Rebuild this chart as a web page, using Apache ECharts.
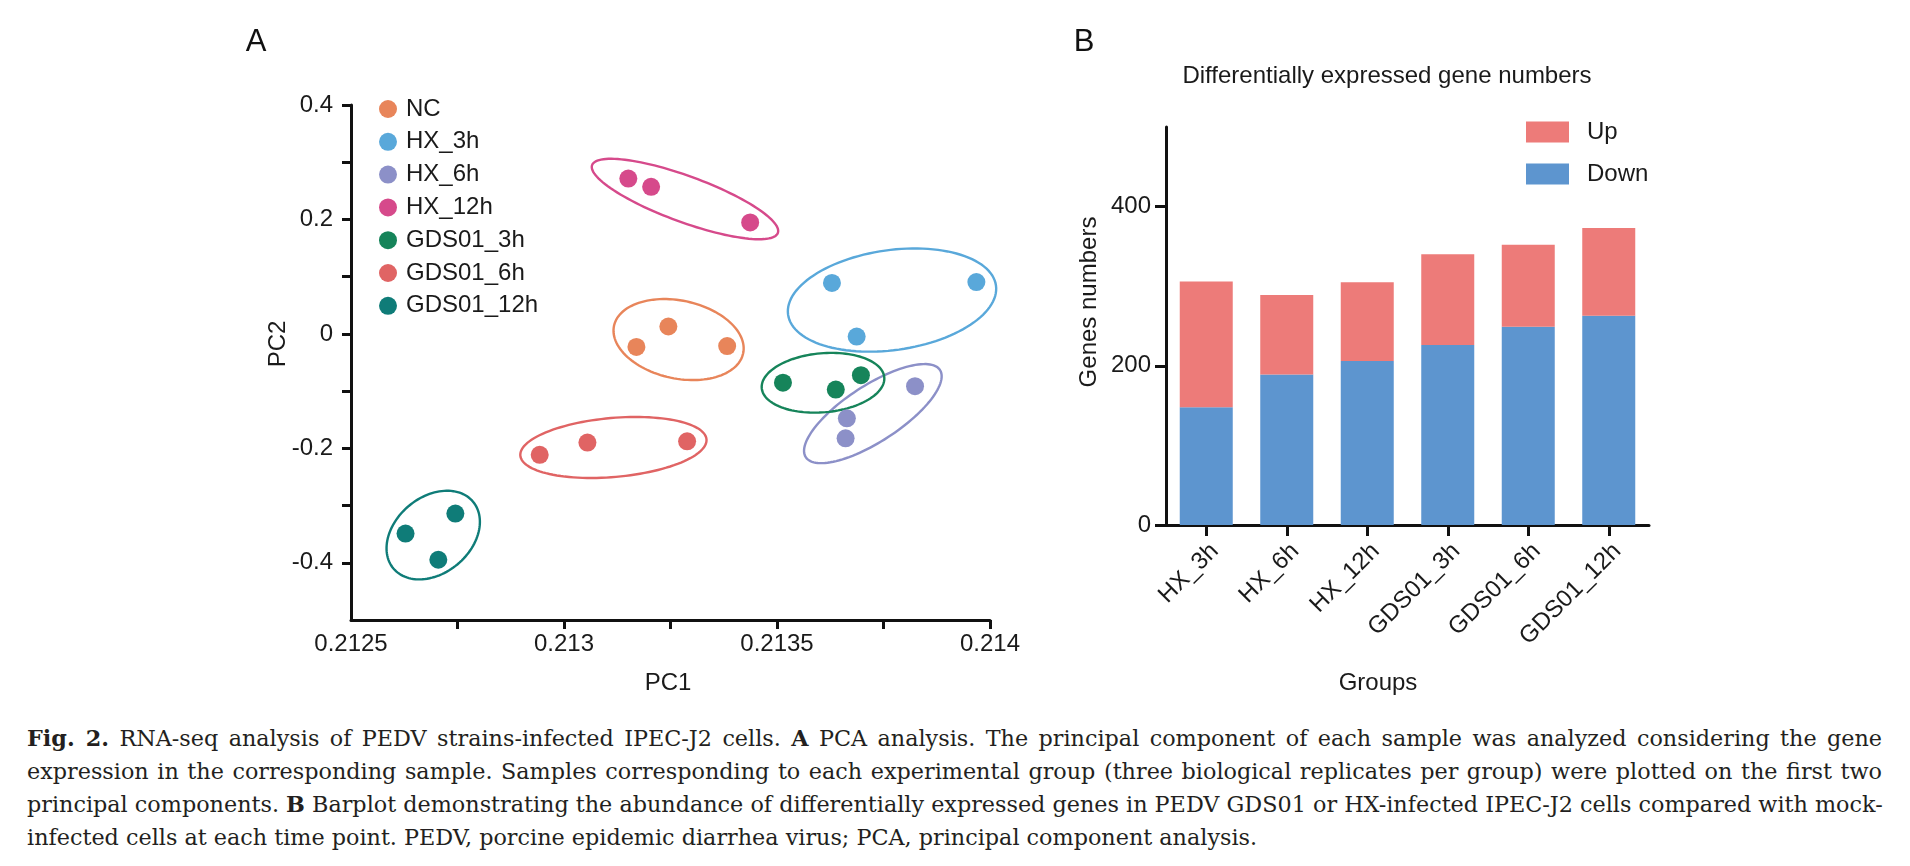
<!DOCTYPE html>
<html>
<head>
<meta charset="utf-8">
<script src="https://cdn.jsdelivr.net/npm/echarts@6/dist/echarts.min.js"></script>
<style>
html,body{margin:0;padding:0;background:#fff;}
#chart{position:absolute;left:0;top:0;width:1910px;height:700px;}
#caption{position:absolute;left:27px;top:722px;width:1855px;font-family:"DejaVu Serif","Liberation Serif",serif;font-size:22.3px;line-height:33px;color:#231f20;}
#caption div{text-align:justify;text-align-last:justify;white-space:nowrap;}
#caption div.last{text-align-last:left;}
</style>
</head>
<body>
<div id="chart"></div>
<div id="caption">
<div><b>Fig. 2.</b> RNA-seq analysis of PEDV strains-infected IPEC-J2 cells. <b>A</b> PCA analysis. The principal component of each sample was analyzed considering the gene</div>
<div>expression in the corresponding sample. Samples corresponding to each experimental group (three biological replicates per group) were plotted on the first two</div>
<div>principal components. <b>B</b> Barplot demonstrating the abundance of differentially expressed genes in PEDV GDS01 or HX-infected IPEC-J2 cells compared with mock-</div>
<div class="last">infected cells at each time point. PEDV, porcine epidemic diarrhea virus; PCA, principal component analysis.</div>
</div>
<script>
// ---------- Panel A data ----------
const groups = ['NC', 'HX_3h', 'HX_6h', 'HX_12h', 'GDS01_3h', 'GDS01_6h', 'GDS01_12h'];
const ncPoints = [[0.21317, -0.0228], [0.213245, 0.0129], [0.213383, -0.0213]];
const hx3Points = [[0.213629, 0.089], [0.213968, 0.0905], [0.213687, -0.0046]];
const hx6Points = [[0.213824, -0.0913], [0.213664, -0.1475], [0.213661, -0.1825]];
const hx12Points = [[0.213151, 0.2715], [0.2132045, 0.257], [0.213437, 0.1947]];
const gds3Points = [[0.213514, -0.0852], [0.213638, -0.0973], [0.213697, -0.0722]];
const gds6Points = [[0.212943, -0.2114], [0.213055, -0.190], [0.213289, -0.1878]];
const gds12Points = [[0.212628, -0.349], [0.212745, -0.314], [0.212705, -0.3947]];
// ellipse centres and conjugate semi-axis vectors, in (PC1, PC2) units
const ellipseCenters = [[0.213269, -0.0099], [0.21377, 0.0591], [0.213725, -0.1393], [0.213284, 0.2357], [0.213608, -0.0854], [0.213116, -0.1985], [0.212693, -0.3516]];
const ellipseAxisA = [[0.0001516, -0.0240], [0.000244, 0.0255], [0.0001575, 0.0762], [0.000218, -0.0593], [0.0001438, 0.0094], [0.0002185, 0.0142], [0.0000934, 0.0584]];
const ellipseAxisB = [[-0.000019, -0.0666], [0.0000163, -0.0865], [0.0000359, -0.0411], [-0.0000185, -0.0378], [0.000006, -0.0514], [0.000006, -0.0514], [0.0000573, -0.0509]];
const xLabelValues = [0.2125, 0.213, 0.2135, 0.214];
const xTickLabels = ['0.2125', '0.213', '0.2135', '0.214'];
const yLabelValues = [-0.4, -0.2, 0, 0.2, 0.4];
const yTickLabels = ['-0.4', '-0.2', '0', '0.2', '0.4'];

// ---------- Panel B data ----------
const barCategories = ['HX_3h', 'HX_6h', 'HX_12h', 'GDS01_3h', 'GDS01_6h', 'GDS01_12h'];
const downValues = [148, 189, 206, 226, 249, 263];
const upValues = [158, 100, 99, 114, 103, 110];
const barYLabels = [0, 200, 400];

// ---------- styling ----------
const groupColors = ['#E8855A', '#59A8DA', '#8C90C8', '#D64A8B', '#16845A', '#E06464', '#0F7C78'];
const upColor = '#ED7B79', downColor = '#5D95CF';
const FONT = '"Liberation Sans", Arial, sans-serif';
const TXT = '#1a1a1a';
const pointSets = [ncPoints, hx3Points, hx6Points, hx12Points, gds3Points, gds6Points, gds12Points];

function stepValues(from, to, step) {
  const out = [];
  const n = Math.round((to - from) / step);
  for (let i = 0; i <= n; i++) out.push(+(from + i * step).toFixed(6));
  return out;
}
function nearestLabel(v, vals, labels) {
  let best = 0;
  for (let i = 1; i < vals.length; i++) if (Math.abs(vals[i] - v) < Math.abs(vals[best] - v)) best = i;
  return labels[best];
}

const axisLineStyle = { color: '#111', width: 3 };

const chart = echarts.init(document.getElementById('chart'), null, { renderer: 'canvas' });

const scatterSeries = groups.map((g, i) => ({
  type: 'scatter', name: g, xAxisIndex: 0, yAxisIndex: 0,
  data: pointSets[i], symbol: 'circle', symbolSize: 18,
  itemStyle: { color: groupColors[i], opacity: 1 }, z: 5,
  emphasis: { disabled: true }
}));

const ellipseSeries = {
  type: 'custom', name: 'ellipses', xAxisIndex: 0, yAxisIndex: 0, z: 3,
  data: ellipseCenters.map((c, i) => [c[0], c[1], i]),
  renderItem: function (params, api) {
    const i = api.value(2);
    const c = ellipseCenters[i], A = ellipseAxisA[i], B = ellipseAxisB[i];
    const pts = [];
    for (let k = 0; k <= 120; k++) {
      const t = k / 120 * Math.PI * 2;
      const ct = Math.cos(t), st = Math.sin(t);
      pts.push(api.coord([c[0] + A[0] * ct + B[0] * st, c[1] + A[1] * ct + B[1] * st]));
    }
    return { type: 'polygon', shape: { points: pts }, style: { fill: 'none', stroke: groupColors[i], lineWidth: 2.4 } };
  },
  silent: true
};

const option = {
  animation: false,
  textStyle: { fontFamily: FONT },
  grid: [
    { left: 351, right: 1910 - 990, top: 105, bottom: 700 - 620 },
    { left: 1166, right: 1910 - 1649, top: 127, bottom: 700 - 525 }
  ],
  xAxis: [
    {
      type: 'value', gridIndex: 0, min: 0.2125, max: 0.214, interval: 0.00025,
      axisLine: { show: true, onZero: false, lineStyle: axisLineStyle },
      axisTick: { show: true, length: 9, lineStyle: { color: '#111', width: 3 }, customValues: stepValues(0.21275, 0.214, 0.00025) },
      axisLabel: { customValues: xLabelValues, formatter: v => nearestLabel(v, xLabelValues, xTickLabels), fontSize: 24, color: TXT, margin: 12, fontFamily: FONT, alignMinLabel: 'center', alignMaxLabel: 'center' },
      splitLine: { show: false }
    },
    {
      type: 'category', gridIndex: 1, data: barCategories, boundaryGap: true,
      axisLine: { show: true, lineStyle: axisLineStyle },
      axisTick: { show: true, alignWithLabel: true, length: 11, lineStyle: { color: '#111', width: 3 } },
      axisLabel: { rotate: 45, fontSize: 24, color: TXT, margin: 14, interval: 0, fontFamily: FONT, verticalAlign: 'top' }
    }
  ],
  yAxis: [
    {
      type: 'value', gridIndex: 0, min: -0.5, max: 0.4, interval: 0.1,
      axisLine: { show: true, onZero: false, lineStyle: axisLineStyle },
      axisTick: { show: true, length: 9, lineStyle: { color: '#111', width: 3 }, customValues: stepValues(-0.4, 0.4, 0.1) },
      axisLabel: { customValues: yLabelValues, formatter: v => nearestLabel(v, yLabelValues, yTickLabels), fontSize: 24, color: TXT, margin: 18, fontFamily: FONT },
      splitLine: { show: false }
    },
    {
      type: 'value', gridIndex: 1, min: 0, max: 500,
      axisLine: { show: true, lineStyle: axisLineStyle },
      axisTick: { show: true, length: 11, lineStyle: { color: '#111', width: 3 }, customValues: barYLabels },
      axisLabel: { customValues: barYLabels, fontSize: 24, color: TXT, margin: 15, fontFamily: FONT },
      splitLine: { show: false }
    }
  ],
  legend: [
    {
      data: groups.map(g => ({ name: g, icon: 'circle' })),
      orient: 'vertical', left: 379, top: 97, padding: 0, itemWidth: 18, itemHeight: 18, itemGap: 8.8,
      textStyle: { fontSize: 24, color: TXT, lineHeight: 24, fontFamily: FONT, padding: [0, 0, 0, 4] }, selectedMode: false
    },
    {
      data: [{ name: 'Up', icon: 'rect' }, { name: 'Down', icon: 'rect' }],
      orient: 'vertical', left: 1526, top: 120, padding: 0, itemWidth: 43, itemHeight: 21, itemGap: 18,
      textStyle: { fontSize: 24, color: TXT, lineHeight: 23, fontFamily: FONT, padding: [0, 0, 0, 13] }, selectedMode: false
    }
  ],
  graphic: [
    { type: 'text', x: 256, y: 42, style: { text: 'A', font: '31px ' + FONT, fill: '#111', align: 'center', verticalAlign: 'middle' } },
    { type: 'text', x: 1084, y: 42, style: { text: 'B', font: '31px ' + FONT, fill: '#111', align: 'center', verticalAlign: 'middle' } },
    { type: 'text', x: 1387, y: 76, style: { text: 'Differentially expressed gene numbers', font: '24px ' + FONT, fill: TXT, align: 'center', verticalAlign: 'middle' } },
    { type: 'text', x: 668, y: 683, style: { text: 'PC1', font: '24px ' + FONT, fill: TXT, align: 'center', verticalAlign: 'middle' } },
    { type: 'text', x: 278, y: 344, rotation: Math.PI / 2, style: { text: 'PC2', font: '24px ' + FONT, fill: TXT, align: 'center', verticalAlign: 'middle' } },
    { type: 'text', x: 1378, y: 683, style: { text: 'Groups', font: '24px ' + FONT, fill: TXT, align: 'center', verticalAlign: 'middle' } },
    { type: 'text', x: 1089, y: 302, rotation: Math.PI / 2, style: { text: 'Genes numbers', font: '24px ' + FONT, fill: TXT, align: 'center', verticalAlign: 'middle' } }
  ],
  series: [ellipseSeries].concat(scatterSeries).concat([
    { type: 'bar', name: 'Down', xAxisIndex: 1, yAxisIndex: 1, stack: 'deg', data: downValues, barWidth: 53, itemStyle: { color: downColor }, emphasis: { disabled: true } },
    { type: 'bar', name: 'Up', xAxisIndex: 1, yAxisIndex: 1, stack: 'deg', data: upValues, barWidth: 53, itemStyle: { color: upColor }, emphasis: { disabled: true } }
  ])
};
chart.setOption(option);
</script>
</body>
</html>
